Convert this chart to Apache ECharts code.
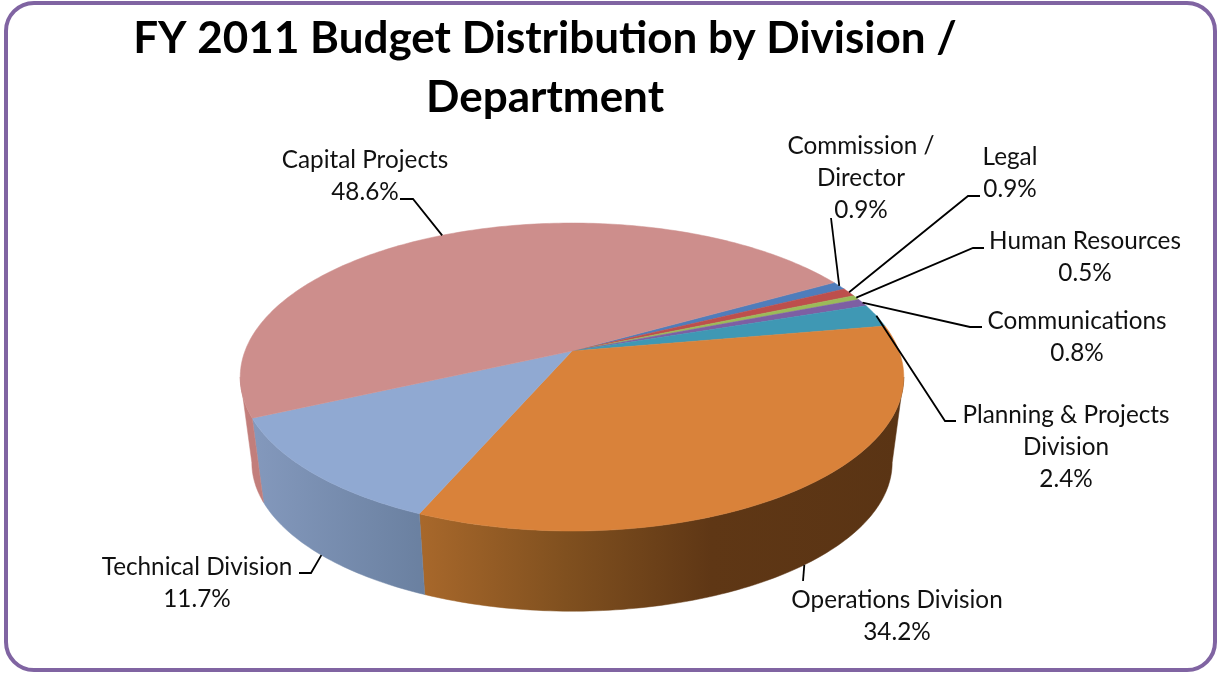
<!DOCTYPE html>
<html>
<head>
<meta charset="utf-8">
<style>html,body{margin:0;padding:0;background:#fff}#c{width:1220px;height:673px}</style>
<script src="https://cdn.jsdelivr.net/npm/echarts@6/dist/echarts.min.js"></script>
</head>
<body>
<div id="c"></div>
<script>
const categories = ['Commission /\nDirector','Legal','Human Resources','Communications','Planning & Projects\nDivision','Operations Division','Technical Division','Capital Projects'];
const values = [0.9,0.9,0.5,0.8,2.4,34.2,11.7,48.6];
const topColors = ['#4f7dbb','#bd4f4c','#9bbb59','#7d5fa3','#3f98b4','#d9823a','#90a9d2','#cd8e8c'];
const wallStops = [
  [[0,'#3b5e8c']],[[0,'#8e3b39']],[[0,'#748c43']],[[0,'#5e477a']],[[0,'#2f7287']],
  [[0,'#a8682b'],[0.3,'#80501f'],[0.6,'#5f3715'],[1,'#5a3414']],
  [[0,'#8499bd'],[1,'#6a80a0']],
  [[0,'#c27e7b'],[1,'#c27e7b']]
];
const wallRanges = [[0,1],[0,1],[0,1],[0,1],[0,1],[420,905],[250,425],[240,260]];
const labelCenters = [[861,178],[1010,173],[1085,257],[1077,337],[1066,447],[897,616],[197,583],[365,176]];
const leaderBends = [[[831,218]],[[968,196],[980,196]],[[973,248],[984,248]],[[970,327],[982,327]],[[945,421],[956,421]],[[803,581]],[[311,573],[299,573]],[[413,199],[400,199]]];
const leaderOnBase = [false,false,false,false,false,true,true,false];
const leaderShift = [0,0,0,0,0,-1.5,0,0];

const startDeg = -29.7;
const view = {cx:572, cy:351, X:327, Y:149.6, k:0.169, baseDrop:86.5, baseScale:0.965};
const total = values.reduce((a,b)=>a+b,0);
const spans = [];
values.reduce((acc,v)=>{const e=acc+v/total*360;spans.push([acc,e]);return e;},startDeg);
const edgeDeg = Math.asin(view.k)*180/Math.PI;

function project(deg, base){
  const t=deg*Math.PI/180, x=Math.cos(t), y=Math.sin(t), w=1-view.k*y;
  const s=base?view.baseScale:1, d=base?view.baseDrop:0;
  return [view.cx+s*view.X*x/w, view.cy+d+s*view.Y*y/w];
}
function arc(a,b,base){
  const n=Math.max(2,Math.ceil(Math.abs(b-a))), pts=[];
  for(let i=0;i<=n;i++)pts.push(project(a+(b-a)*i/n,base));
  return pts;
}
function wallFill(i){
  const st=wallStops[i];
  if(st.length===1)return st[0][1];
  const r=wallRanges[i];
  return new echarts.graphic.LinearGradient(r[0],0,r[1],0,st.map(s=>({offset:s[0],color:s[1]})),true);
}
const font='Lato, "Open Sans", sans-serif';
const rows=categories.map((c,i)=>[i,values[i]]);

const chart=echarts.init(document.getElementById('c'),null,{renderer:'canvas',width:1220,height:673});
chart.setOption({
  animation:false,
  backgroundColor:'#fff',
  title:{text:'FY 2011 Budget Distribution by Division /\nDepartment',left:540,top:4,textAlign:'center',
    textStyle:{fontFamily:font,fontWeight:'bold',fontSize:44,lineHeight:59,color:'#000'}},
  graphic:[{type:'rect',z:-1,silent:true,shape:{x:6,y:3,width:1209,height:667,r:28},
    style:{fill:'#fff',stroke:'#8064a2',lineWidth:4}}],
  series:[
    {type:'custom',coordinateSystem:'none',data:rows,z:2,silent:true,
     renderItem(p,api){
       const i=api.value(0);
       // only the near side of the rim faces the viewer; its ends are the silhouette
       const a=Math.max(spans[i][0],edgeDeg), b=Math.min(spans[i][1],180-edgeDeg);
       if(b<=a)return null;
       const pts=arc(a,b,false).concat(arc(a,b,true).reverse());
       const fill=wallFill(i);
       return {type:'polygon',shape:{points:pts},style:{fill,stroke:fill,lineWidth:0.5}};
     }},
    {type:'custom',coordinateSystem:'none',data:rows,z:3,silent:true,
     renderItem(p,api){
       const i=api.value(0),[a,b]=spans[i];
       const pts=[[view.cx,view.cy]].concat(arc(a,b,false));
       return {type:'polygon',shape:{points:pts},style:{fill:topColors[i],stroke:topColors[i],lineWidth:0.5}};
     }},
    {type:'custom',coordinateSystem:'none',data:rows,z:4,silent:true,
     renderItem(p,api){
       const i=api.value(0),[a,b]=spans[i];
       const start=project((a+b)/2+leaderShift[i],leaderOnBase[i]);
       return {type:'group',children:[
         {type:'polyline',shape:{points:[start].concat(leaderBends[i])},style:{fill:'none',stroke:'#000',lineWidth:1.8}},
         {type:'text',x:labelCenters[i][0],y:labelCenters[i][1],style:{
            text:categories[i]+'\n'+api.value(1).toFixed(1)+'%',fill:'#111',
            fontFamily:font,fontSize:24.3,align:'center',verticalAlign:'middle',lineHeight:32}}
       ]};
     }}
  ]
});
</script>
</body>
</html>
